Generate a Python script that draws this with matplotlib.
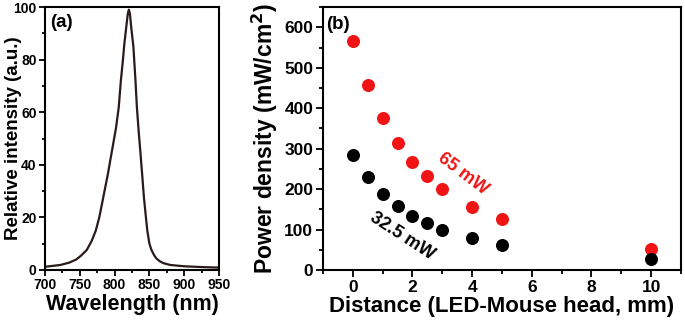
import matplotlib
matplotlib.use('Agg')
import matplotlib.pyplot as plt
from matplotlib.ticker import MultipleLocator

plt.rcParams['font.family'] = ['Liberation Sans', 'DejaVu Sans']
plt.rcParams['font.weight'] = 'bold'

# panel (a): LED emission spectrum
wavelength = [700, 722, 735, 745, 752, 760, 767, 773, 778, 784, 790, 796, 802,
              806, 809, 812, 814, 817, 819, 820.5, 822, 824, 827, 830, 832,
              834.5, 837, 840, 842, 845, 847, 850, 853, 857, 860, 865, 870,
              880, 900, 925, 950]
intensity = [1.2, 1.9, 2.8, 4.0, 5.5, 7.6, 11, 15, 20, 28, 36, 45, 54,
             62, 72, 80, 86, 93, 97.5, 99, 97.5, 92, 85, 72, 62,
             53, 45, 35, 28, 20, 15, 10, 7.6, 5.5, 4.4, 3.3, 2.6,
             1.9, 1.4, 1.1, 0.9]

# panel (b): power density vs distance
distance = [0, 0.5, 1, 1.5, 2, 2.5, 3, 4, 5, 10]
density_65 = [566, 457, 376, 315, 268, 232, 200, 156, 125, 53]
density_32 = [283, 229, 188, 158, 134, 115, 100, 78, 62, 27]


def style_axes(ax, tick_size, tick_len):
    for s in ax.spines.values():
        s.set_linewidth(1.5)
    ax.tick_params(which='both', direction='out', top=False, right=False,
                   width=1.3, labelsize=tick_size, pad=2)
    ax.tick_params(which='major', length=tick_len)
    ax.tick_params(which='minor', length=tick_len * 0.6)
    for lab in ax.get_xticklabels() + ax.get_yticklabels():
        lab.set_fontweight('bold')


fig = plt.figure(figsize=(6.85, 3.21), dpi=100)

ax1 = fig.add_axes([0.0657, 0.159, 0.254, 0.819])
ax1.plot(wavelength, intensity, color='#2a1a1a', lw=1.6)
ax1.set_xlim(700, 950)
ax1.set_ylim(0, 100)
ax1.xaxis.set_major_locator(MultipleLocator(50))
ax1.xaxis.set_minor_locator(MultipleLocator(25))
ax1.yaxis.set_major_locator(MultipleLocator(20))
ax1.yaxis.set_minor_locator(MultipleLocator(10))
style_axes(ax1, 10, 4)
ax1.set_xlabel('Wavelength (nm)', fontsize=15.5, fontweight='bold', labelpad=1)
ax1.set_ylabel('Relative intensity (a.u.)', fontsize=13.5, fontweight='bold')
ax1.yaxis.set_label_coords(-0.135, 0.5)
ax1.text(0.03, 0.975, '(a)', transform=ax1.transAxes, fontsize=13.5,
         fontweight='bold', va='top', ha='left')

ax2 = fig.add_axes([0.4715, 0.159, 0.5225, 0.819])
ax2.scatter(distance, density_65, s=70, color='#f01414', zorder=3)
ax2.scatter(distance, density_32, s=70, color='black', zorder=3)
ax2.set_xlim(-1, 11)
ax2.set_ylim(0, 650)
ax2.xaxis.set_major_locator(MultipleLocator(2))
ax2.xaxis.set_minor_locator(MultipleLocator(1))
ax2.yaxis.set_major_locator(MultipleLocator(100))
ax2.yaxis.set_minor_locator(MultipleLocator(50))
style_axes(ax2, 12.5, 5)
ax2.set_xlabel('Distance (LED-Mouse head, mm)', fontsize=16, fontweight='bold', labelpad=1)
ax2.set_ylabel('Power density (mW/cm$^\\mathbf{2}$)', fontsize=16.5, fontweight='bold', labelpad=3)
ax2.text(0.008, 0.965, '(b)', transform=ax2.transAxes, fontsize=13.5,
         fontweight='bold', va='top', ha='left')
ax2.text(3.7, 238, '65 mW', color='#f01414', fontsize=13, fontweight='bold',
         rotation=-37, ha='center', va='center')
ax2.text(1.67, 83, '32.5 mW', color='black', fontsize=13, fontweight='bold',
         rotation=-33, ha='center', va='center')

fig.savefig('out.png', dpi=100)
